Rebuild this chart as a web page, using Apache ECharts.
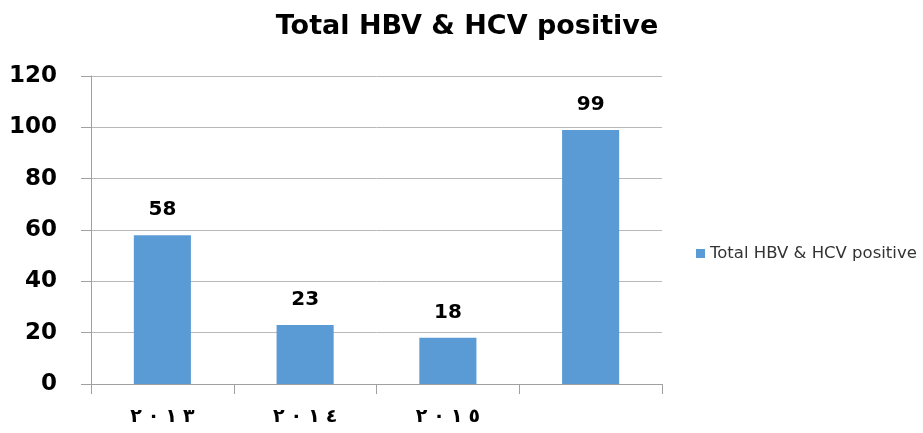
<!DOCTYPE html>
<html>
<head>
<meta charset="utf-8">
<script src="https://cdn.jsdelivr.net/npm/echarts@6/dist/echarts.min.js"></script>
<style>
  html, body { margin: 0; padding: 0; background: #fff; }
  #main { width: 923px; height: 433px; }
</style>
</head>
<body>
<div id="main"></div>
<script>
var seriesName = 'Total HBV & HCV positive';
var categories = ['٢٠١٣', '٢٠١٤', '٢٠١٥', ''];
var values = [58, 23, 18, 99];

var chart = echarts.init(document.getElementById('main'), null, { renderer: 'canvas' });

var option = {
  backgroundColor: '#fff',
  animation: false,
  title: {
    text: seriesName,
    left: 462,
    top: 8,
    textAlign: 'center',
    textStyle: { fontFamily: 'DejaVu Sans', fontWeight: 'bold', fontSize: 27, color: '#000' }
  },
  legend: {
    orient: 'vertical',
    left: 691,
    top: 240,
    itemWidth: 9,
    itemHeight: 9,
    itemGap: 6,
    icon: 'rect',
    textStyle: { fontFamily: 'DejaVu Sans', fontSize: 16.5, color: '#333' },
    data: [seriesName]
  },
  grid: { left: 91, right: 261, top: 76, bottom: 49 },
  xAxis: {
    type: 'category',
    data: categories,
    axisLine: { lineStyle: { color: '#a0a0a0', width: 1 } },
    axisTick: { show: true, length: 10, lineStyle: { color: '#a0a0a0' } },
    axisLabel: {
      margin: 24,
      color: '#000',
      // spread the digits apart one by one, keeping left-to-right order
      formatter: function (v) {
        return v.split('').map(function (c) { return '{d|' + c + '}'; }).join('');
      },
      rich: {
        d: {
          fontFamily: 'DejaVu Sans',
          fontWeight: 'bold',
          fontSize: 19,
          padding: [0, 3],
          color: '#000'
        }
      }
    }
  },
  yAxis: {
    type: 'value',
    min: 0,
    max: 120,
    interval: 20,
    axisLine: { show: true, lineStyle: { color: '#a0a0a0', width: 1 } },
    axisTick: { show: true, length: 10, lineStyle: { color: '#a0a0a0' } },
    splitLine: { lineStyle: { color: '#b8b8b8', width: 1 } },
    axisLabel: {
      margin: 34,
      fontFamily: 'DejaVu Sans',
      fontWeight: 'bold',
      fontSize: 23,
      color: '#000'
    }
  },
  series: [
    {
      name: seriesName,
      type: 'bar',
      data: values,
      barWidth: '40%',
      itemStyle: { color: '#5B9BD5' },
      label: {
        show: true,
        position: 'top',
        distance: 15,
        fontFamily: 'DejaVu Sans',
        fontWeight: 'bold',
        fontSize: 20,
        color: '#000'
      }
    }
  ]
};

chart.setOption(option);
</script>
</body>
</html>
